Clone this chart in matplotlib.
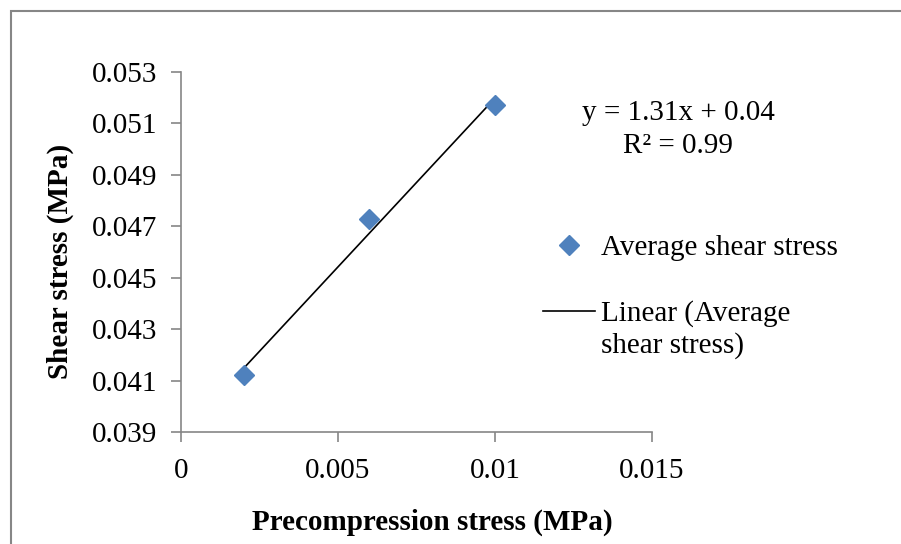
import matplotlib.pyplot as plt
import numpy as np
from matplotlib.patches import Rectangle

plt.rcParams['font.family'] = ['Liberation Serif', 'DejaVu Serif']

precompression = [0.002, 0.006, 0.010]
shear = [0.0412, 0.0473, 0.0517]
x_ticks = [0, 0.005, 0.01, 0.015]
x_labels = ['0', '0.005', '0.01', '0.015']
y_ticks = [0.039, 0.041, 0.043, 0.045, 0.047, 0.049, 0.051, 0.053]

grey = '#868686'
blue = '#4F81BD'

fig = plt.figure(figsize=(9.01, 5.44), dpi=100)
# chart area border (right and bottom edges are cropped off in the original)
fig.patches.append(Rectangle((11 / 901, -0.1), 1.2, 1 - 11 / 544 + 0.1,
                             transform=fig.transFigure, fill=False,
                             edgecolor=grey, linewidth=1.5))

ax = fig.add_axes([181 / 901, 1 - 432 / 544, 471 / 901, 360 / 544])

pts, = ax.plot(precompression, shear, linestyle='none', marker='D',
               markersize=10.5, color=blue, label='Average shear stress', zorder=3)

# linear trendline
slope, intercept = np.polyfit(precompression, shear, 1)
xs = np.array([min(precompression), max(precompression)])
fit, = ax.plot(xs, slope * xs + intercept, color='black', linewidth=1.2,
               label='Linear (Average', zorder=2)

ax.set_xlim(0, 0.015)
ax.set_ylim(0.039, 0.053)
ax.set_xticks(x_ticks)
ax.set_xticklabels(x_labels)
ax.set_yticks(y_ticks)
ax.set_yticklabels([f'{v:.3f}' for v in y_ticks])

for side in ['top', 'right']:
    ax.spines[side].set_visible(False)
for side in ['left', 'bottom']:
    ax.spines[side].set_color(grey)
    ax.spines[side].set_linewidth(1.2)
ax.tick_params(direction='out', length=7, width=1.2, color=grey,
               labelsize=21, labelcolor='black')
ax.tick_params(axis='x', pad=12)
ax.tick_params(axis='y', pad=10)

fig.text(60 / 901, 1 - 261 / 544, 'Shear stress (MPa)', rotation=90,
         ha='center', va='center', fontsize=21, fontweight='bold')
fig.text(432 / 901, 1 - 522 / 544, 'Precompression stress (MPa)',
         ha='center', va='center', fontsize=21, fontweight='bold')

fig.text(678 / 901, 1 - 113 / 544, f'y = {slope:.2f}x + {intercept:.2f}',
         ha='center', va='center', fontsize=21)
fig.text(678 / 901, 1 - 146 / 544, 'R² = 0.99',
         ha='center', va='center', fontsize=21)

ax.legend(handles=[pts, fit], loc='upper left',
          bbox_to_anchor=(543 / 901, 1 - 235 / 544),
          bbox_transform=fig.transFigure, frameon=False, fontsize=21,
          handlelength=1.78, handletextpad=0.2, labelspacing=1.34,
          borderpad=0, borderaxespad=0)
# wrapped second line of the trendline legend label
fig.text(601 / 901, 1 - 353 / 544, 'shear stress)', ha='left',
         va='baseline', fontsize=21)

fig.savefig('out.png', dpi=100)
